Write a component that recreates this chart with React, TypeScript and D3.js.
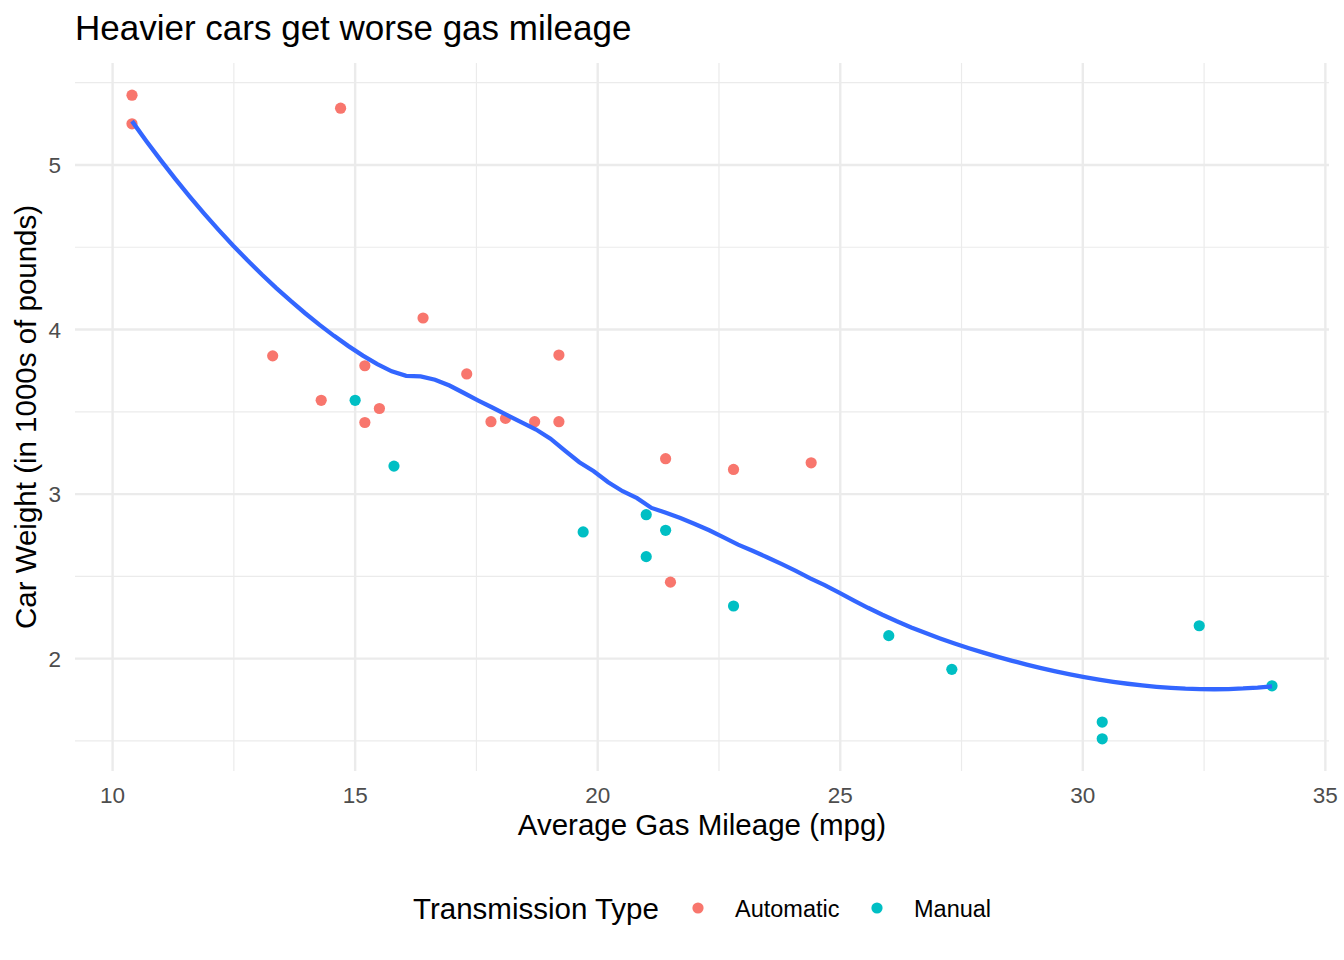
import React from 'react';
import * as d3 from 'd3';

// mtcars: mpg, wt, transmission
const mpg = [21.0, 21.0, 22.8, 21.4, 18.7, 18.1, 14.3, 24.4, 22.8, 19.2, 17.8, 16.4, 17.3, 15.2, 10.4, 10.4, 14.7, 32.4, 30.4, 33.9, 21.5, 15.5, 15.2, 13.3, 19.2, 27.3, 26.0, 30.4, 15.8, 19.7, 15.0, 21.4];
const wt = [2.62, 2.875, 2.32, 3.215, 3.44, 3.46, 3.57, 3.19, 3.15, 3.44, 3.44, 4.07, 3.73, 3.78, 5.25, 5.424, 5.345, 2.2, 1.615, 1.835, 2.465, 3.52, 3.435, 3.84, 3.845, 1.935, 2.14, 1.513, 3.17, 2.77, 3.57, 2.78];
const am = [1, 1, 1, 0, 0, 0, 0, 0, 0, 0, 0, 0, 0, 0, 0, 0, 0, 1, 1, 1, 0, 0, 0, 0, 0, 1, 1, 1, 1, 1, 1, 1];
const amLabels = ['Automatic', 'Manual'];
const amColors = ['#F8766D', '#00BFC4'];
const xTicks = [10, 15, 20, 25, 30, 35];
const yTicks = [2, 3, 4, 5];

const W = 1344;
const H = 960;
const panel = { left: 75, right: 1329, top: 63, bottom: 771 };
const font = '"Liberation Sans", Arial, Helvetica, sans-serif';

// local quadratic regression (loess, span 0.75, tricube weights)
function loess(xs: number[], ys: number[], x0: number, span = 0.75) {
  const n = xs.length;
  const q = Math.floor(n * span);
  const dist = xs.map((x) => Math.abs(x - x0)).sort((a, b) => a - b);
  const h = dist[q - 1] || 1e-9;
  const m = [[0, 0, 0], [0, 0, 0], [0, 0, 0]];
  const v = [0, 0, 0];
  for (let i = 0; i < n; i++) {
    const u = Math.abs(xs[i] - x0) / h;
    if (u >= 1) continue;
    const w = Math.pow(1 - u * u * u, 3);
    const dx = xs[i] - x0;
    const b = [1, dx, dx * dx];
    for (let r = 0; r < 3; r++) {
      v[r] += w * b[r] * ys[i];
      for (let c = 0; c < 3; c++) m[r][c] += w * b[r] * b[c];
    }
  }
  // solve 3x3 by gaussian elimination
  const a = m.map((row, i) => [...row, v[i]]);
  for (let c = 0; c < 3; c++) {
    let p = c;
    for (let r = c + 1; r < 3; r++) if (Math.abs(a[r][c]) > Math.abs(a[p][c])) p = r;
    [a[c], a[p]] = [a[p], a[c]];
    for (let r = c + 1; r < 3; r++) {
      const f = a[r][c] / a[c][c];
      for (let k = c; k < 4; k++) a[r][k] -= f * a[c][k];
    }
  }
  const sol = [0, 0, 0];
  for (let r = 2; r >= 0; r--) {
    let s = a[r][3];
    for (let k = r + 1; k < 3; k++) s -= a[r][k] * sol[k];
    sol[r] = s / a[r][r];
  }
  return sol[0];
}

export default function App() {
  const xExt = d3.extent(mpg) as [number, number];
  const yExt = d3.extent(wt) as [number, number];
  const xPad = (xExt[1] - xExt[0]) * 0.05;
  const yPad = (yExt[1] - yExt[0]) * 0.05;
  const x = d3.scaleLinear().domain([xExt[0] - xPad, xExt[1] + xPad]).range([panel.left, panel.right]);
  const y = d3.scaleLinear().domain([yExt[0] - yPad, yExt[1] + yPad]).range([panel.bottom, panel.top]);

  const xMinor = xTicks.slice(0, -1).map((t) => t + 2.5).concat([7.5]).filter((t) => t > x.domain()[0] && t < x.domain()[1]);
  const yMinor = [1.5, 2.5, 3.5, 4.5, 5.5].filter((t) => t > y.domain()[0] && t < y.domain()[1]);
  const xMajor = xTicks.filter((t) => t >= x.domain()[0] && t <= x.domain()[1]);

  const grid = d3.range(80).map((i) => xExt[0] + ((xExt[1] - xExt[0]) * i) / 79);
  const smooth = grid.map((g) => [g, loess(mpg, wt, g)] as [number, number]);
  const line = d3.line<[number, number]>().x((d) => x(d[0])).y((d) => y(d[1]));

  const gridColor = '#EBEBEB';
  const cx = (panel.left + panel.right) / 2;
  const cy = (panel.top + panel.bottom) / 2;

  return (
    <svg width={W} height={H} style={{ position: 'absolute', left: 0, top: 0, background: '#fff' }} fontFamily={font}>
      {yMinor.map((t) => (
        <line key={'ym' + t} x1={panel.left} x2={panel.right} y1={y(t)} y2={y(t)} stroke={gridColor} strokeWidth={1.2} />
      ))}
      {xMinor.map((t) => (
        <line key={'xm' + t} y1={panel.top} y2={panel.bottom} x1={x(t)} x2={x(t)} stroke={gridColor} strokeWidth={1.2} />
      ))}
      {yTicks.map((t) => (
        <line key={'yM' + t} x1={panel.left} x2={panel.right} y1={y(t)} y2={y(t)} stroke={gridColor} strokeWidth={2.4} />
      ))}
      {xMajor.map((t) => (
        <line key={'xM' + t} y1={panel.top} y2={panel.bottom} x1={x(t)} x2={x(t)} stroke={gridColor} strokeWidth={2.4} />
      ))}

      {mpg.map((m, i) => (
        <circle key={i} cx={x(m)} cy={y(wt[i])} r={5.6} fill={amColors[am[i]]} />
      ))}
      <path d={line(smooth) || ''} fill="none" stroke="#3366FF" strokeWidth={4.3} />

      {xMajor.map((t) => (
        <text key={'xl' + t} x={x(t)} y={803} textAnchor="middle" fontSize={22.5} fill="#4D4D4D">{t}</text>
      ))}
      {yTicks.map((t) => (
        <text key={'yl' + t} x={61} y={y(t) + 8} textAnchor="end" fontSize={22.5} fill="#4D4D4D">{t}</text>
      ))}

      <text x={75} y={40} fontSize={35} fill="#000">Heavier cars get worse gas mileage</text>
      <text x={cx} y={835} textAnchor="middle" fontSize={29.5} fill="#000">Average Gas Mileage (mpg)</text>
      <text transform={`translate(35.5,${cy}) rotate(-90)`} textAnchor="middle" fontSize={29.5} fill="#000">Car Weight (in 1000s of pounds)</text>

      <text x={413} y={919} fontSize={29.5} fill="#000">Transmission Type</text>
      {amLabels.map((lab, i) => (
        <g key={lab} transform={`translate(${i === 0 ? 698 : 877},908)`}>
          <circle cx={0} cy={0} r={5.6} fill={amColors[i]} />
          <text x={37} y={8.5} fontSize={23.5} fill="#000">{lab}</text>
        </g>
      ))}
    </svg>
  );
}
